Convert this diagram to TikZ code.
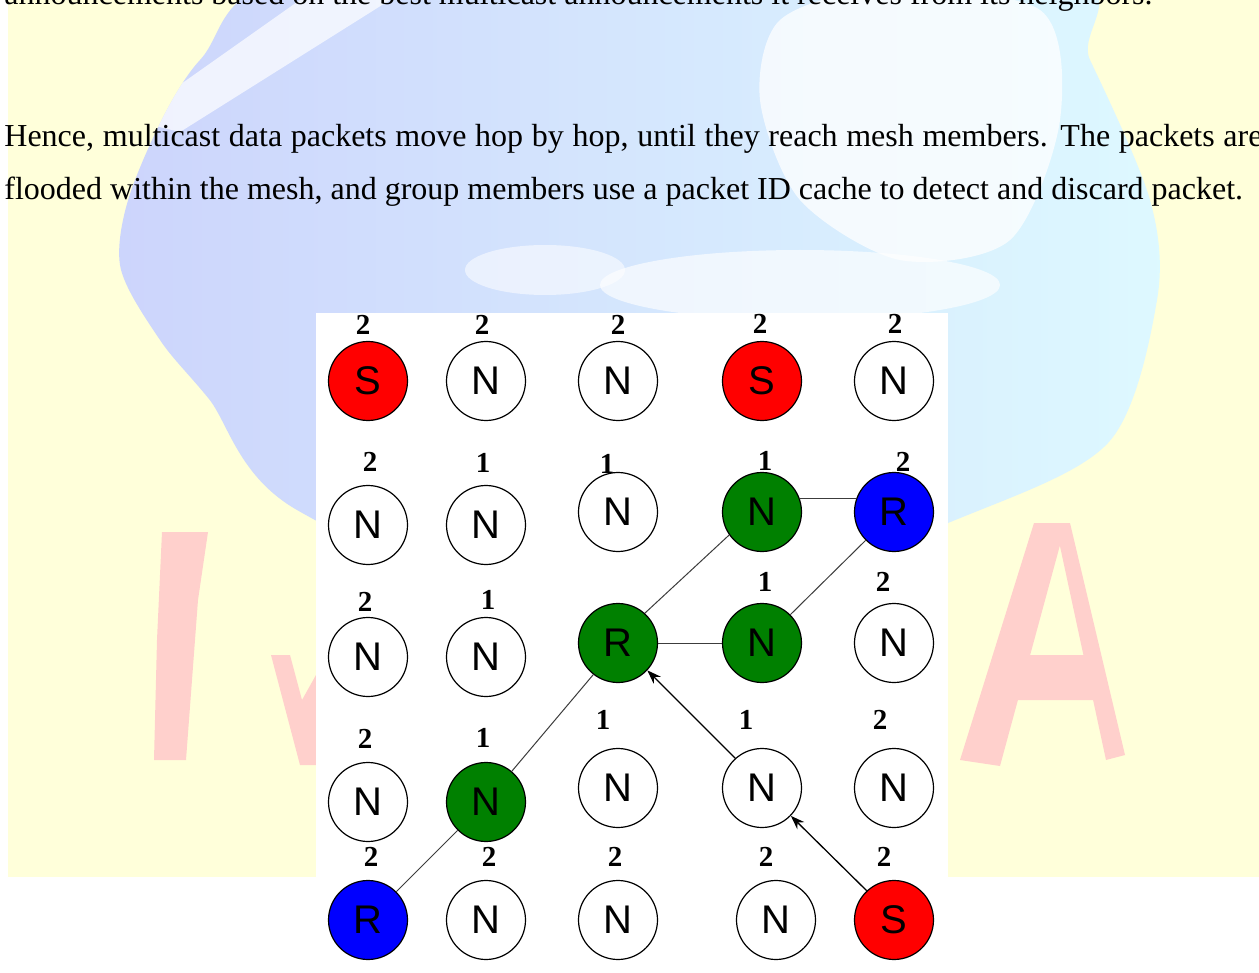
\documentclass[tikz,border=0pt]{standalone}
\usepackage{fontspec}
\setmainfont{Liberation Serif}
\newfontfamily\arialfont{Liberation Sans}
\usetikzlibrary{arrows.meta}
\definecolor{bgyellow}{RGB}{255,255,218}
\definecolor{globelav}{RGB}{204,212,252}
\definecolor{globecyan}{RGB}{222,250,255}
\definecolor{wmpink}{RGB}{255,208,204}
\definecolor{nred}{RGB}{255,0,0}
\definecolor{ngreen}{RGB}{0,128,0}
\definecolor{nblue}{RGB}{0,0,255}
\definecolor{edgegray}{RGB}{60,60,60}
\begin{document}
\begin{tikzpicture}[x=0.5pt,y=-0.5pt,
  nodebox/.style={circle,draw=black,line width=0.6pt,minimum size=39.5pt,inner sep=0pt,font=\arialfont\fontsize{20}{20}\selectfont},
  plain/.style={nodebox,fill=white},
  src/.style={nodebox,fill=nred},
  mesh/.style={nodebox,fill=ngreen},
  rcv/.style={nodebox,fill=nblue},
  hop/.style={font=\bfseries\fontsize{14.5}{14.5}\selectfont,inner sep=0pt},
  link/.style={draw=edgegray,line width=0.5pt},
  fwd/.style={draw=black,line width=0.65pt,-{Stealth[length=7pt,width=5pt]}},
  para/.style={anchor=base west,inner sep=0pt,font=\fontsize{16}{16}\selectfont}]
\useasboundingbox (0,0) rectangle (1259,973);
\fill[white] (0,0) rectangle (1259,973);
% watermark background
\begin{scope}
  \clip (8,0) rectangle (1259,877);
  \fill[bgyellow] (8,0) rectangle (1259,877);
  \begin{scope}
    \clip plot[smooth cycle] coordinates {(330,-30) (200,60) (135,180) (120,265) (160,340) (209,399) (297,510) (630,640) (948,523) (1108,443) (1157,300) (1150,200) (1090,60) (1040,-30)};
    \shade[left color=globelav,right color=globecyan] (100,-40) rectangle (1200,660);
    \fill[white,opacity=0.7] (130,120) -- (180,132) -- (390,0) -- (300,0) -- cycle;
    \fill[white,opacity=0.75] plot[smooth cycle] coordinates {(780,20) (880,-10) (1040,10) (1060,120) (1010,240) (900,260) (800,200) (760,100)};
    \fill[white,opacity=0.65] (800,285) ellipse [x radius=200,y radius=35];
    \fill[white,opacity=0.55] (545,270) ellipse [x radius=80,y radius=25];
  \end{scope}
  \fill[wmpink] (162,532) -- (208,532) -- (198,600) -- (186,760) -- (154,760) -- (157,640) -- cycle;
  \fill[wmpink] (271,655) -- (290,655) -- (302,700) -- (316,675) -- (316,765) -- (300,765) -- cycle;
  \fill[wmpink] (1034,523) -- (1066,523) -- (1000,766) -- (960,760) -- cycle;
  \fill[wmpink] (1055,523) -- (1070,523) -- (1125,755) -- (1106,760) -- cycle;
  \fill[wmpink] (1003,655) -- (1100,655) -- (1108,700) -- (990,700) -- cycle;
\end{scope}
% text
\node[para] (t0) at (4,5) {announcements based on the best multicast announcements it receives from its neighbors.};
\node[para] (t1) at (4,147) {\makebox[629pt][s]{Hence, multicast data packets move hop by hop, until they reach mesh members. The packets are}};
\node[para] (t2) at (4,200) {flooded within the mesh, and group members use a packet ID cache to detect and discard packet.};
% diagram panel
\fill[white] (316,313) rectangle (948,973);
% row 1
\node[src]   (a1) at (368,381) {S};
\node[plain] (a2) at (486,381) {N};
\node[plain] (a3) at (618,381) {N};
\node[src]   (a4) at (762,381) {S};
\node[plain] (a5) at (894,381) {N};
% row 2
\node[plain] (b1) at (368,525) {N};
\node[plain] (b2) at (486,525) {N};
\node[plain] (b3) at (618,512) {N};
\node[mesh]  (b4) at (762,512) {N};
\node[rcv]   (b5) at (894,512) {R};
% row 3
\node[plain] (c1) at (368,657) {N};
\node[plain] (c2) at (486,657) {N};
\node[mesh]  (c3) at (618,643) {R};
\node[mesh]  (c4) at (762,643) {N};
\node[plain] (c5) at (894,643) {N};
% row 4
\node[plain] (d1) at (368,802) {N};
\node[mesh]  (d2) at (486,802) {N};
\node[plain] (d3) at (618,788) {N};
\node[plain] (d4) at (762,788) {N};
\node[plain] (d5) at (894,788) {N};
% row 5
\node[rcv]   (e1) at (368,920) {R};
\node[plain] (e2) at (486,920) {N};
\node[plain] (e3) at (618,920) {N};
\node[plain] (e4) at (776,920) {N};
\node[src]   (e5) at (894,920) {S};
% hop labels
\node[hop] (la1) at (363,325) {2};
\node[hop] (la2) at (482,325) {2};
\node[hop] (la3) at (618,325) {2};
\node[hop] (la4) at (760,324) {2};
\node[hop] (la5) at (895,324) {2};
\node[hop] (lb1) at (370,462) {2};
\node[hop] (lb2) at (483,463) {1};
\node[hop] (lb3) at (607,464) {1};
\node[hop] (lb4) at (765,461) {1};
\node[hop] (lb5) at (903,462) {2};
\node[hop] (lc1) at (365,602) {2};
\node[hop] (lc2) at (488,600) {1};
\node[hop] (lc4) at (765,582) {1};
\node[hop] (lc5) at (883,582) {2};
\node[hop] (ld1) at (365,739) {2};
\node[hop] (ld2) at (483,738) {1};
\node[hop] (ld3) at (603,720) {1};
\node[hop] (ld4) at (746,720) {1};
\node[hop] (ld5) at (880,720) {2};
\node[hop] (le1) at (371,857) {2};
\node[hop] (le2) at (489,857) {2};
\node[hop] (le3) at (615,857) {2};
\node[hop] (le4) at (766,857) {2};
\node[hop] (le5) at (884,857) {2};
% mesh links
\draw[link] (b4.19) -- (b5.161);
\draw[link] (b4.215) -- (c3.48);
\draw[link] (b5.225) -- (c4.45);
\draw[link] (c3.east) -- (c4.west);
\draw[link] (c3.232) -- (d2.50);
\draw[link] (d2.225) -- (e1.45);
% forwarding arrows
\draw[fwd] (d4.132) -- (c3.-43);
\draw[fwd] (e5.133) -- (d4.-44);
\end{tikzpicture}
\end{document}
